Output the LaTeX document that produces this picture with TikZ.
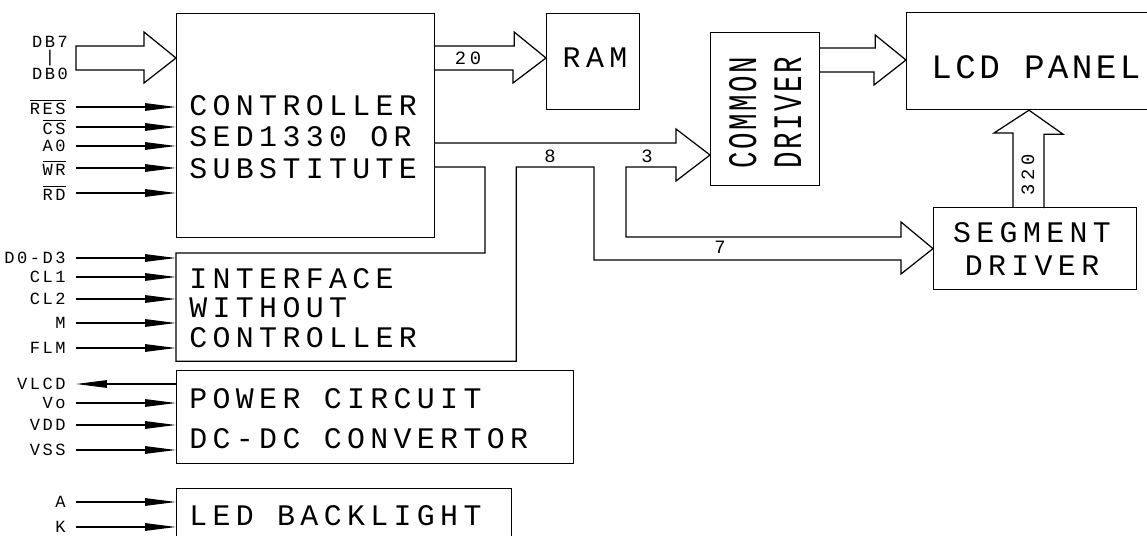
\documentclass[tikz,border=0pt]{standalone}
\usepackage{fontspec}
\setmainfont{Liberation Mono}
\newfontfamily\cadfont[LetterSpace=18]{Liberation Mono}
\newfontfamily\cadsmall[LetterSpace=15]{Liberation Mono}
\newfontfamily\cadnarrow[LetterSpace=6,FakeStretch=0.68]{Liberation Mono}
\usetikzlibrary{arrows.meta,positioning}
\newcommand\ovl[1]{$\overline{\hbox{#1}}$}
\tikzset{
  blk/.style={draw,line width=0.7pt,inner sep=0pt,anchor=north west},
  txt/.style={font=\cadfont\fontsize{17}{#1}\selectfont,inner sep=0pt,align=left},
  txt/.default=20,
  pin/.style={font=\cadsmall\fontsize{9.7}{11}\selectfont,anchor=east,inner xsep=0.2cm,inner ysep=0pt},
  num/.style={font=\cadsmall\addfontfeature{LetterSpace=20}\fontsize{10.7}{12}\selectfont,inner sep=0pt},
  sig/.style={line width=0.7pt,-{Triangle[length=0.62cm,width=0.15cm]}},
  bus/.style={line width=0.7pt,line join=miter}
}
\begin{document}
\begin{tikzpicture}[x=0.02cm,y=-0.02cm]
\useasboundingbox (0,0) rectangle (1147,536);
% blocks
\node[blk,minimum width=5.16cm,minimum height=4.48cm] (ctrl) at (176,13) {};
\node[blk,minimum width=1.86cm,minimum height=1.92cm] (ram) at (546,13) {};
\node[blk,minimum width=2.18cm,minimum height=3.06cm] (comdrv) at (710,32) {};
\node[blk,minimum width=5.2cm,minimum height=1.94cm] (lcd) at (906,12) {};
\node[blk,minimum width=4.06cm,minimum height=1.64cm] (segdrv) at (933,207) {};
\node[blk,draw=none,minimum width=6.78cm,minimum height=2.14cm] (iface) at (176,253) {};
\node[blk,minimum width=7.94cm,minimum height=1.86cm] (power) at (176,370) {};
\node[blk,minimum width=6.70cm,minimum height=1.2cm] (led) at (176,488) {};
% block texts
\node[txt=17.9,anchor=north west] (ctrltxt) at (189,95) {CONTROLLER\\SED1330 OR\\SUBSTITUTE};
\node[txt] (ramtxt) at (595,58) {RAM};
\node[txt,rotate=90,align=center,font=\cadnarrow\fontsize{23}{25.6}\selectfont] (comtxt) at (765,113) {COMMON\\DRIVER};
\node[txt,font=\cadfont\addfontfeature{LetterSpace=10}\fontsize{19.5}{22}\selectfont] (lcdtxt) at (1036,67) {LCD PANEL};
\node[txt=18.8,align=center,anchor=north] (segtxt) at (1032,222) {SEGMENT\\DRIVER};
\node[txt=16.8,anchor=north west] (ifacetxt) at (189,268) {INTERFACE\\WITHOUT\\CONTROLLER};
\node[txt=22.8,anchor=north west] (powertxt) at (189,388) {POWER CIRCUIT\\DC-DC CONVERTOR};
\node[txt,anchor=north west] (ledtxt) at (189,505) {LED BACKLIGHT};
% buses
\draw[bus] (ctrl.west |- 0,58) -- ++(-32,-26) -- ++(0,14) -- ++(-68,0) -- ++(0,24) -- ++(68,0) -- ++(0,13) -- cycle;
\draw[bus] (ctrl.east |- 0,46) -- ++(79,0) -- ++(0,-14) -- (ram.west |- 0,58) -- ++(-33,25) -- ++(0,-13) -- ++(-79,0);
\draw[bus] (comdrv.east |- 0,48) -- ++(55,0) -- ++(0,-13) -- (lcd.west |- 0,60) -- ++(-32,25) -- ++(0,-13) -- ++(-55,0);
\draw[bus] (1013,0 |- segdrv.north) -- ++(0,-74) -- ++(-19,0) -- (1029,0 |- lcd.south) -- ++(34,24) -- ++(-19,0) -- ++(0,74);
\draw[bus] (ctrl.east |- 0,143) -- (676,143) -- (676,129) -- (comdrv.west |- 0,155) -- (676,181) -- (676,167)
  -- (626,167) -- (626,237) -- (901,237) -- (901,222) -- (segdrv.west) -- (901,274) -- (901,260)
  -- (594,260) -- (594,167) -- (iface.east |- 0,167) -- (iface.south east) -- (iface.south west)
  -- (iface.north west) -- (485,253) -- (485,167) -- (ctrl.east |- 0,167);
% bus widths
\node[num] (n20) at (468,58) {20};
\node[num] (n8) at (550,156) {8};
\node[num] (n3) at (647,156) {3};
\node[num] (n7) at (720,247) {7};
\node[num,rotate=90] (n320) at (1028,175) {320};
% pins
\node[pin,anchor=center,inner xsep=0pt,align=center,font=\cadsmall\fontsize{9.7}{8.3}\selectfont] (db) at (50,58) {DB7\\|\\DB0};
\foreach \nm/\t/\y in {res/\ovl{RES}/107,cs/\ovl{CS}/127,azero/A0/146,wr/\ovl{WR}/168,rd/\ovl{RD}/193}{
  \node[pin] (\nm) at (76,\y) {\t};
  \draw[sig] (\nm.east) -- (\nm.east -| ctrl.west);
}
\foreach \nm/\t/\y in {dzero/D0-D3/258,clone/CL1/277,cltwo/CL2/299,mm/M/323,flm/FLM/348}{
  \node[pin] (\nm) at (76,\y) {\t};
  \draw[sig] (\nm.east) -- (\nm.east -| iface.west);
}
\node[pin] (vlcd) at (76,384) {VLCD};
\draw[sig] (vlcd.east -| power.west) -- (vlcd.east);
\foreach \nm/\t/\y in {vo/Vo/403,vdd/VDD/425,vss/VSS/450}{
  \node[pin] (\nm) at (76,\y) {\t};
  \draw[sig] (\nm.east) -- (\nm.east -| power.west);
}
\foreach \nm/\t/\y in {anode/A/502,kath/K/527}{
  \node[pin] (\nm) at (76,\y) {\t};
  \draw[sig] (\nm.east) -- (\nm.east -| led.west);
}
\end{tikzpicture}
\end{document}
